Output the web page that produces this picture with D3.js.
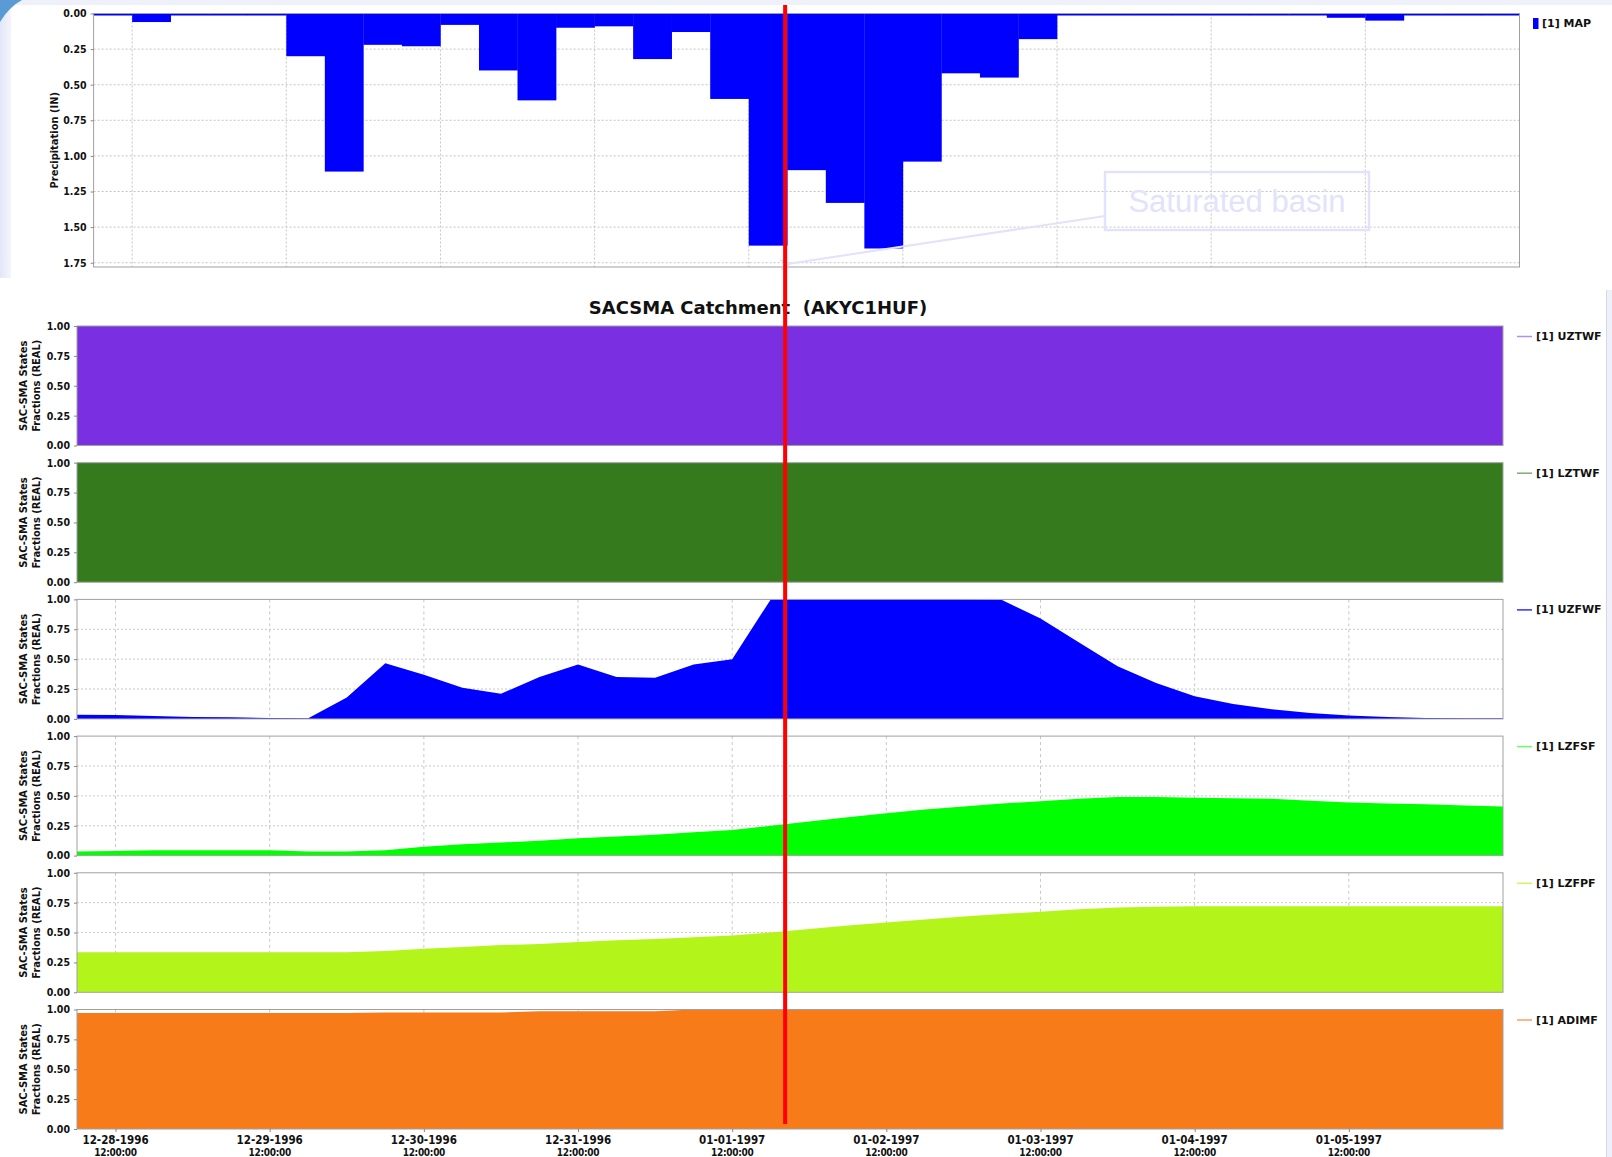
<!DOCTYPE html>
<html>
<head>
<meta charset="utf-8">
<script src="https://cdn.jsdelivr.net/npm/d3@7"></script>
<style>
  html, body { margin: 0; padding: 0; background: #eef0fa; }
  svg { display: block; }
  .tick text { font-family: "DejaVu Sans Condensed", "DejaVu Sans", sans-serif; font-stretch: condensed; font-weight: bold; font-size: 10.5px; fill: #111; }
  .lbl { font-family: "DejaVu Sans Condensed", "DejaVu Sans", sans-serif; font-stretch: condensed; font-weight: bold; fill: #111; }
  .leg { font-family: "DejaVu Sans", sans-serif; font-weight: bold; fill: #111; }
</style>
</head>
<body>
<svg id="chart" width="1612" height="1157"></svg>
<script>
// ---- time frame shared by both charts (6-hourly steps) ----
const startTime = "1996-12-28T06:00";
const endTime   = "1997-01-06T12:00";
const stepHours = 6;

// axis ticks (daily at 12:00)
const tickTimes = ["1996-12-28T12:00", "1996-12-29T12:00", "1996-12-30T12:00", "1996-12-31T12:00",
                   "1997-01-01T12:00", "1997-01-02T12:00", "1997-01-03T12:00", "1997-01-04T12:00",
                   "1997-01-05T12:00"];
const tickDateLabels = ["12-28-1996", "12-29-1996", "12-30-1996", "12-31-1996", "01-01-1997",
                        "01-02-1997", "01-03-1997", "01-04-1997", "01-05-1997"];
const tickTimeLabel = "12:00:00";
const fractionTicks = [0, 0.25, 0.5, 0.75, 1.0];
const precipTicks = [0, 0.25, 0.5, 0.75, 1.0, 1.25, 1.5, 1.75];

// ---- mean areal precipitation (IN), one value per 6-hour interval ----
const mapPrecip = [0, 0.06, 0, 0, 0, 0.30, 1.11, 0.22, 0.23, 0.08, 0.40, 0.61, 0.10, 0.09, 0.32,
                   0.13, 0.60, 1.63, 1.10, 1.33, 1.65, 1.04, 0.42, 0.45, 0.18, 0, 0, 0, 0, 0, 0, 0,
                   0.03, 0.05, 0, 0, 0];

// ---- SAC-SMA state fractions, one value every 6 hours from startTime ----
const stateNames = ["UZTWF", "LZTWF", "UZFWF", "LZFSF", "LZFPF", "ADIMF"];
const uztwf = [1, 1, 1, 1, 1, 1, 1, 1, 1, 1, 1, 1, 1, 1, 1, 1, 1, 1, 1,
               1, 1, 1, 1, 1, 1, 1, 1, 1, 1, 1, 1, 1, 1, 1, 1, 1, 1, 1];
const lztwf = [1, 1, 1, 1, 1, 1, 1, 1, 1, 1, 1, 1, 1, 1, 1, 1, 1, 1, 1,
               1, 1, 1, 1, 1, 1, 1, 1, 1, 1, 1, 1, 1, 1, 1, 1, 1, 1, 1];
const uzfwf = [0.035, 0.033, 0.024, 0.016, 0.014, 0.008, 0.005, 0.18, 0.465, 0.37, 0.26, 0.21,
               0.35, 0.455, 0.35, 0.345, 0.455, 0.50, 1.0, 1.0, 1.0, 1.0, 1.0, 1.0, 0.995, 0.84,
               0.64, 0.44, 0.30, 0.19, 0.125, 0.08, 0.05, 0.028, 0.015, 0.008, 0.006, 0.005];
const lzfsf = [0.035, 0.038, 0.045, 0.045, 0.045, 0.045, 0.035, 0.035, 0.045, 0.075, 0.095, 0.11,
               0.125, 0.145, 0.16, 0.175, 0.195, 0.215, 0.25, 0.285, 0.32, 0.355, 0.385, 0.41,
               0.435, 0.455, 0.475, 0.49, 0.49, 0.485, 0.48, 0.475, 0.46, 0.445, 0.435, 0.43, 0.42, 0.41];
const lzfpf = [0.335, 0.335, 0.335, 0.335, 0.335, 0.335, 0.335, 0.335, 0.345, 0.365, 0.38, 0.395,
               0.405, 0.42, 0.435, 0.445, 0.46, 0.475, 0.50, 0.53, 0.56, 0.585, 0.61, 0.635, 0.655,
               0.675, 0.695, 0.71, 0.715, 0.72, 0.72, 0.72, 0.72, 0.72, 0.72, 0.72, 0.72, 0.72];
const adimf = [0.97, 0.97, 0.97, 0.97, 0.97, 0.97, 0.97, 0.97, 0.975, 0.975, 0.975, 0.975,
               0.985, 0.985, 0.985, 0.985, 1, 1, 1, 1, 1, 1, 1, 1, 1, 1, 1, 1, 1, 1, 1, 1, 1, 1, 1, 1, 1, 1];
const stateSeries = [uztwf, lztwf, uzfwf, lzfsf, lzfpf, adimf];
const stateColors  = ["#7a30e0", "#357b1d", "#0000ff", "#00ff00", "#b3f51b", "#f77b18"];
const legendColors = ["#b58cf0", "#7fae6f", "#3030ff", "#66ff66", "#ccf566", "#f7a060"];

// marker and note
const markerTime = "1997-01-01T17:40";
const noteText = "Saturated basin";
const noteTarget = { time: "1997-01-01T18:30", value: 1.755 };

// ---------------------------------------------------------------
const svg = d3.select("#chart");
const parse = d3.utcParse("%Y-%m-%dT%H:%M");
const t0 = parse(startTime), t1 = parse(endTime);
const ticks = tickTimes.map(parse);
const stepTime = k => d3.utcHour.offset(t0, k * stepHours);

// page decoration
const defs = svg.append("defs");
const lg = defs.append("linearGradient").attr("id", "edge").attr("x1", 0).attr("x2", 1);
lg.append("stop").attr("offset", 0).attr("stop-color", "#e3e6f7");
lg.append("stop").attr("offset", 1).attr("stop-color", "#f4f5fc");
svg.append("rect").attr("width", 1612).attr("height", 1157).attr("fill", "#eef0fa");
svg.append("rect").attr("x", 0).attr("y", 0).attr("width", 11).attr("height", 278).attr("fill", "url(#edge)");
svg.append("rect").attr("x", 11).attr("y", 5).attr("width", 1601).attr("height", 285).attr("fill", "#ffffff");
svg.append("rect").attr("x", 0).attr("y", 278).attr("width", 1606).attr("height", 879).attr("fill", "#ffffff");
svg.append("line").attr("x1", 1606.5).attr("x2", 1606.5).attr("y1", 290).attr("y2", 1157)
  .attr("stroke", "#d8d8e0");
svg.append("path").attr("d", "M0,0 L22,0 Q9,7 0,22 Z").attr("fill", "#5b9bd5");

// ================= precipitation chart =================
const P = { x0: 93.6, x1: 1519.5, y0: 13.5, y1: 267 };
const xTop = d3.scaleUtc().domain([t0, t1]).range([P.x0, P.x1]);
const yTop = d3.scaleLinear().domain([0, 1.78]).range([P.y0, P.y1]);
const gTop = svg.append("g");
defs.append("clipPath").attr("id", "clipTop").append("rect")
  .attr("x", P.x0).attr("y", P.y0).attr("width", P.x1 - P.x0).attr("height", P.y1 - P.y0);

// grid
gTop.append("g").selectAll("line").data(precipTicks.slice(1)).join("line")
  .attr("x1", P.x0).attr("x2", P.x1).attr("y1", d => yTop(d)).attr("y2", d => yTop(d))
  .attr("stroke", "#c4c4c4").attr("stroke-dasharray", "2,2");
gTop.append("g").selectAll("line").data(ticks).join("line")
  .attr("x1", d => xTop(d)).attr("x2", d => xTop(d)).attr("y1", P.y0).attr("y2", P.y1)
  .attr("stroke", "#c4c4c4").attr("stroke-dasharray", "2,2");

// bars (hanging from the top)
gTop.append("g").attr("clip-path", "url(#clipTop)").selectAll("rect").data(mapPrecip).join("rect")
  .attr("x", (d, i) => xTop(stepTime(i)))
  .attr("width", (d, i) => xTop(stepTime(i + 1)) - xTop(stepTime(i)) + 0.3)
  .attr("y", yTop(0))
  .attr("height", d => Math.max(2, yTop(d) - yTop(0)))
  .attr("fill", "#0000ff");

// frame and axis
gTop.append("rect").attr("x", P.x0).attr("y", P.y0).attr("width", P.x1 - P.x0).attr("height", P.y1 - P.y0)
  .attr("fill", "none").attr("stroke", "#a0a0a0");
const axTop = gTop.append("g").attr("transform", `translate(${P.x0},0)`)
  .call(d3.axisLeft(yTop).tickValues(precipTicks).tickFormat(d3.format(".2f")).tickSize(3).tickPadding(4));
axTop.select(".domain").remove();
axTop.selectAll(".tick line").attr("stroke", "#888");
gTop.append("text").attr("class", "lbl").attr("font-size", 11)
  .attr("transform", `translate(55,${(P.y0 + P.y1) / 2}) rotate(-90)`)
  .attr("text-anchor", "middle").attr("dominant-baseline", "middle").text("Precipitation (IN)");

// legend
gTop.append("rect").attr("x", 1533).attr("y", 18).attr("width", 5.5).attr("height", 11).attr("fill", "#0000ff");
gTop.append("text").attr("class", "leg").attr("font-size", 11).attr("x", 1542).attr("y", 24)
  .attr("dominant-baseline", "middle").text("[1] MAP");

// note box with arrow
const note = { x: 1105, y: 172, w: 264, h: 58 };
const noteColor = "#e2e2fa";
defs.append("marker").attr("id", "arrowHead").attr("viewBox", "0 0 12 12").attr("refX", 1).attr("refY", 6)
  .attr("markerWidth", 12).attr("markerHeight", 12).attr("markerUnits", "userSpaceOnUse").attr("orient", "auto-start-reverse")
  .append("path").attr("d", "M11,1 L1,6 L11,11").attr("fill", "none").attr("stroke", noteColor).attr("stroke-width", 2);
gTop.append("line")
  .attr("x1", xTop(parse(noteTarget.time))).attr("y1", yTop(noteTarget.value))
  .attr("x2", note.x).attr("y2", note.y + 44)
  .attr("stroke", noteColor).attr("stroke-width", 2).attr("marker-start", "url(#arrowHead)");
gTop.append("rect").attr("x", note.x).attr("y", note.y).attr("width", note.w).attr("height", note.h)
  .attr("fill", "none").attr("stroke", noteColor).attr("stroke-width", 2.5);
gTop.append("text").attr("x", note.x + note.w / 2).attr("y", note.y + note.h / 2 + 11)
  .attr("text-anchor", "middle").attr("font-family", "'Liberation Sans', Arial, sans-serif")
  .attr("font-size", 31).attr("fill", noteColor).text(noteText);

// ================= SAC-SMA state panels =================
const L = { x0: 77, x1: 1503, top0: 326, step: 136.7, h: 119.5 };
const x = d3.scaleUtc().domain([t0, t1]).range([L.x0, L.x1]);

svg.append("text").attr("class", "leg").attr("font-size", 18)
  .attr("x", 758).attr("y", 314).attr("text-anchor", "middle").text("SACSMA Catchment  (AKYC1HUF)")
  .style("white-space", "pre");

stateSeries.forEach((series, i) => {
  const py0 = L.top0 + i * L.step, py1 = py0 + L.h;
  const y = d3.scaleLinear().domain([0, 1]).range([py1, py0]);
  const g = svg.append("g");

  g.append("g").selectAll("line").data(fractionTicks.slice(1, -1)).join("line")
    .attr("x1", L.x0).attr("x2", L.x1).attr("y1", d => y(d)).attr("y2", d => y(d))
    .attr("stroke", "#c8c8c8").attr("stroke-dasharray", "2,2");
  g.append("g").selectAll("line").data(ticks).join("line")
    .attr("x1", d => x(d)).attr("x2", d => x(d)).attr("y1", py0).attr("y2", py1)
    .attr("stroke", "#c8c8c8").attr("stroke-dasharray", "3,3");

  const area = d3.area().x((d, k) => x(stepTime(k))).y0(y(0)).y1(d => y(d));
  g.append("path").datum(series).attr("d", area).attr("fill", stateColors[i]);

  g.append("rect").attr("x", L.x0).attr("y", py0).attr("width", L.x1 - L.x0).attr("height", L.h)
    .attr("fill", "none").attr("stroke", "#a0a0a0");

  const ax = g.append("g").attr("transform", `translate(${L.x0},0)`)
    .call(d3.axisLeft(y).tickValues(fractionTicks).tickFormat(d3.format(".2f")).tickSize(3).tickPadding(4));
  ax.select(".domain").remove();
  ax.selectAll(".tick line").attr("stroke", "#888");

  const cy = (py0 + py1) / 2;
  g.append("text").attr("class", "lbl").attr("font-size", 11)
    .attr("transform", `translate(24,${cy}) rotate(-90)`).attr("text-anchor", "middle")
    .attr("dominant-baseline", "middle").text("SAC-SMA States");
  g.append("text").attr("class", "lbl").attr("font-size", 11)
    .attr("transform", `translate(37,${cy}) rotate(-90)`).attr("text-anchor", "middle")
    .attr("dominant-baseline", "middle").text("Fractions (REAL)");

  g.append("line").attr("x1", 1517).attr("x2", 1532).attr("y1", py0 + 10.5).attr("y2", py0 + 10.5)
    .attr("stroke", legendColors[i]).attr("stroke-width", 1.5);
  g.append("text").attr("class", "leg").attr("font-size", 11).attr("x", 1536).attr("y", py0 + 11)
    .attr("dominant-baseline", "middle").text("[1] " + stateNames[i]);

  if (i === stateSeries.length - 1) {
    const xa = g.append("g").attr("transform", `translate(0,${py1})`)
      .call(d3.axisBottom(x).tickValues(ticks).tickSize(3).tickFormat(""));
    xa.select(".domain").remove();
    xa.selectAll(".tick line").attr("stroke", "#888");
    const lab = g.append("g").selectAll("g").data(ticks).join("g")
      .attr("transform", d => `translate(${x(d)},0)`);
    lab.append("text").attr("class", "lbl").attr("font-size", 11.5).attr("text-anchor", "middle")
      .attr("y", py1 + 15).text((d, k) => tickDateLabels[k]);
    lab.append("text").attr("class", "lbl").attr("font-size", 10).attr("text-anchor", "middle")
      .attr("y", py1 + 27).attr("letter-spacing", -0.3).text(tickTimeLabel);
  }
});

// time marker across both charts
svg.append("line").attr("x1", xTop(parse(markerTime))).attr("x2", xTop(parse(markerTime)))
  .attr("y1", 5).attr("y2", 1124).attr("stroke", "#ff0000").attr("stroke-width", 4);
</script>
</body>
</html>
